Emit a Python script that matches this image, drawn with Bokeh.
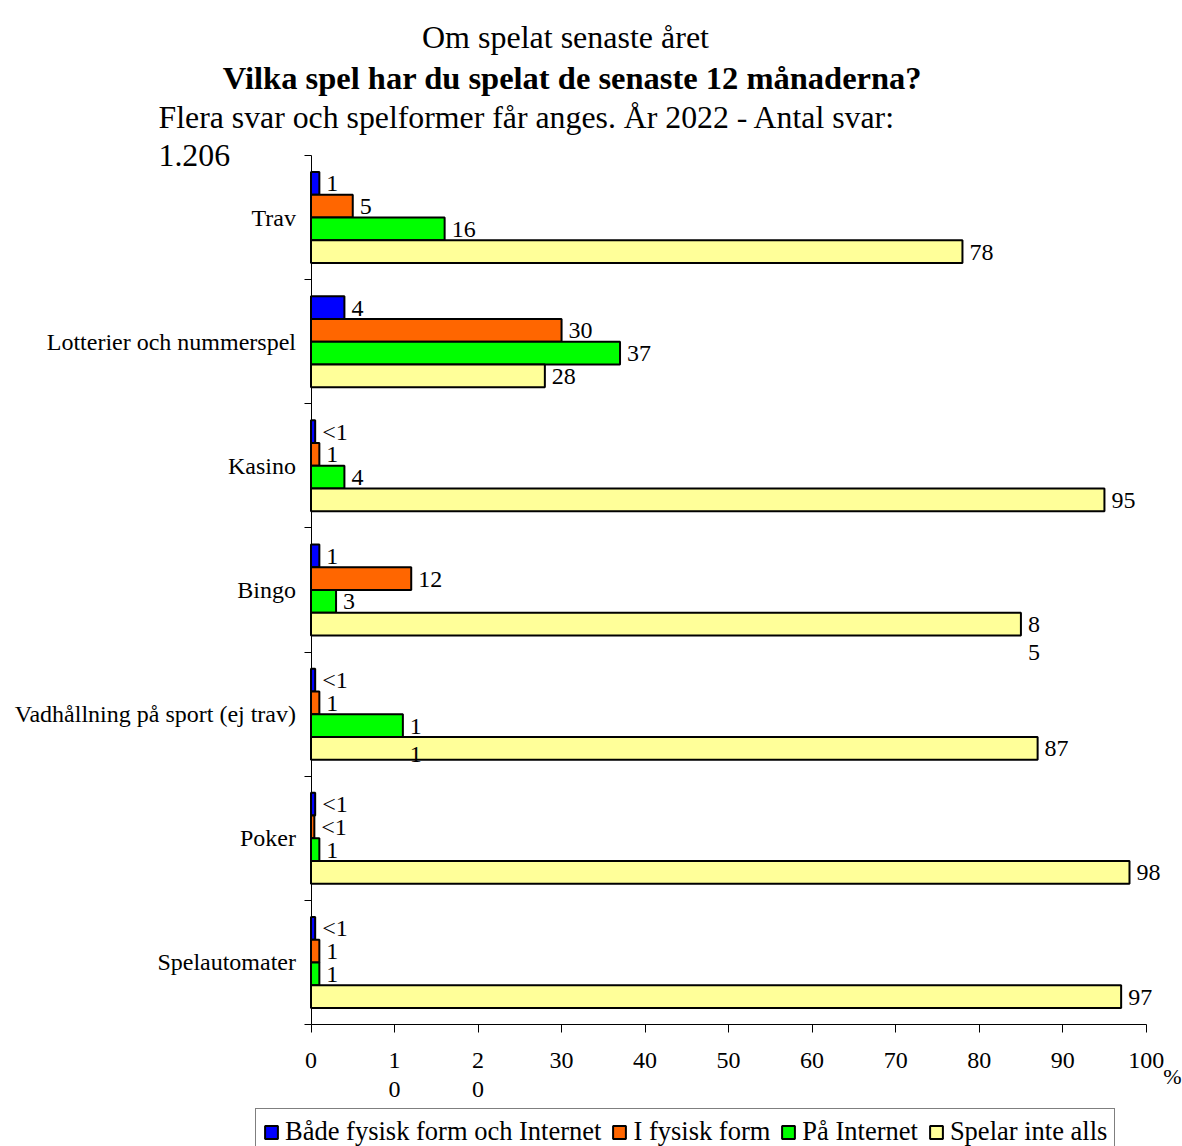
from bokeh.plotting import figure
from bokeh.models import (Range1d, FixedTicker, Label, LabelSet, ColumnDataSource,
                          Legend, LegendItem)
from bokeh.core.properties import value
from bokeh.embed import file_html
from bokeh.resources import INLINE

# ---------------- data ----------------
categories = ["Trav", "Lotterier och nummerspel", "Kasino", "Bingo",
              "Vadhållning på sport (ej trav)", "Poker", "Spelautomater"]
series_names = ["Både fysisk form och Internet", "I fysisk form", "På Internet", "Spelar inte alls"]
both_values = [1, 4, 0.5, 1, 0.5, 0.5, 0.5]
physical_values = [5, 30, 1, 12, 1, 0.4, 1]
internet_values = [16, 37, 4, 3, 11, 1, 1]
none_values = [78, 28, 95, 85, 87, 98, 97]
both_labels = ["1", "4", "<1", "1", "<1", "<1", "<1"]
physical_labels = ["5", "30", "1", "12", "1", "<1", "1"]
internet_labels = ["16", "37", "4", "3", "1\n1", "1", "1"]
none_labels = ["78", "28", "95", "8\n5", "87", "98", "97"]
x_ticks = [0, 10, 20, 30, 40, 50, 60, 70, 80, 90, 100]
x_tick_labels = ["0", "1\n0", "2\n0", "30", "40", "50", "60", "70", "80", "90", "100"]
x_unit = "%"
colors = ["#0000FF", "#FF6600", "#00FF00", "#FFFF99"]

title_1 = "Om spelat senaste året"
title_2 = "Vilka spel har du spelat de senaste 12 månaderna?"
title_3a = "Flera svar och spelformer får anges. År 2022 - Antal svar:"
title_3b = "1.206"

FONT = "Liberation Serif"

# ---------------- layout (canvas pixels) ----------------
W, H = 1182, 1146
N = len(categories)
PX0, PX100 = 310.5, 1145.7     # x = 0 and x = 100
PY0, PYN = 155.0, 1024.0       # top of first group, bottom of last group
XS = (PX100 - PX0) / 100.0
YS = (PYN - PY0) / N


def dx(px):
    return (px - PX0) / XS


def dy(py):
    return (py - PY0) / YS


p = figure(width=W, height=H, output_backend="svg", toolbar_location=None, title=None,
           x_range=Range1d(dx(0), dx(W)), y_range=Range1d(dy(H), dy(0)),
           min_border=0, min_border_left=0, min_border_right=0,
           min_border_top=0, min_border_bottom=0)
p.grid.visible = False
p.outline_line_color = None
p.background_fill_color = "white"
p.border_fill_color = "white"

BAR_H = 0.1833
series = [(both_values, both_labels), (physical_values, physical_labels),
          (internet_values, internet_labels), (none_values, none_labels)]
renderers = []
for j, (vals, labs) in enumerate(series):
    ys = [i + 0.5 + (j - 1.5) * BAR_H for i in range(N)]
    first = [s.split("\n")[0] for s in labs]
    second = [s.split("\n")[1] if "\n" in s else "" for s in labs]
    src = ColumnDataSource(dict(y=ys, right=vals, first=first, second=second))
    r = p.hbar(y="y", left=0, right="right", height=BAR_H, source=src,
               fill_color=colors[j], line_color="black", line_width=2)
    renderers.append(r)
    for col, yoff in (("first", -8), ("second", -36)):
        p.add_layout(LabelSet(x="right", y="y", text=col, source=src, x_offset=7, y_offset=yoff,
                              text_baseline="alphabetic", text_align="left",
                              text_font=value(FONT), text_font_size="24px", text_color="black"))

# x axis
xa = p.xaxis[0]
xa.fixed_location = N
xa.bounds = (0, 100)
xa.ticker = FixedTicker(ticks=x_ticks, minor_ticks=[])
xa.major_label_overrides = dict(zip(x_ticks, x_tick_labels))
xa.major_tick_in = 0
xa.major_tick_out = 8
xa.minor_tick_out = 0
xa.minor_tick_in = 0
xa.major_label_standoff = 14
xa.major_label_text_font = FONT
xa.major_label_text_font_size = "24px"
xa.major_label_text_color = "black"
xa.major_label_text_line_height = 1.15
xa.axis_line_color = "black"
xa.major_tick_line_color = "black"

# y axis
ya = p.yaxis[0]
ya.fixed_location = 0
ya.bounds = (0, N)
centers = [i + 0.5 for i in range(N)]
ya.ticker = FixedTicker(ticks=centers, minor_ticks=list(range(N + 1)))
ya.major_label_overrides = dict(zip(centers, categories))
ya.major_tick_in = 0
ya.major_tick_out = 0
ya.minor_tick_in = 0
ya.minor_tick_out = 7
ya.minor_tick_line_color = "black"
ya.major_label_standoff = 8
ya.major_label_text_font = FONT
ya.major_label_text_font_size = "24px"
ya.major_label_text_color = "black"
ya.axis_line_color = "black"

# percent sign next to the 100 tick
p.add_layout(Label(x=100, y=N, x_offset=17, y_offset=-52, text=x_unit, text_align="left",
                   text_baseline="middle", text_font=FONT, text_font_size="22px",
                   text_color="black"))

# titles
p.add_layout(Label(x=dx(565), y=dy(36), text=title_1, text_align="center",
                   text_baseline="alphabetic", text_font=FONT, text_font_size="32px",
                   text_color="black"))
p.add_layout(Label(x=dx(572), y=dy(77), text=title_2, text_align="center",
                   text_baseline="alphabetic", text_font=FONT, text_font_size="32.5px",
                   text_font_style="bold", text_color="black"))
p.add_layout(Label(x=dx(158), y=dy(117), text=title_3a, text_align="left",
                   text_baseline="alphabetic", text_font=FONT, text_font_size="31.8px",
                   text_color="black"))
p.add_layout(Label(x=dx(158), y=dy(155), text=title_3b, text_align="left",
                   text_baseline="alphabetic", text_font=FONT, text_font_size="31.8px",
                   text_color="black"))

legend = Legend(items=[LegendItem(label=n, renderers=[r]) for n, r in zip(series_names, renderers)],
                orientation="horizontal", location=(255, -9),
                label_text_font=FONT, label_text_font_size="26.5px", label_text_color="black",
                glyph_width=16, glyph_height=16, label_standoff=6, spacing=10,
                padding=7, margin=0, border_line_color="black", border_line_width=1,
                background_fill_alpha=1)
p.add_layout(legend, "center")

open("out.html", "w").write(file_html(p, INLINE))
